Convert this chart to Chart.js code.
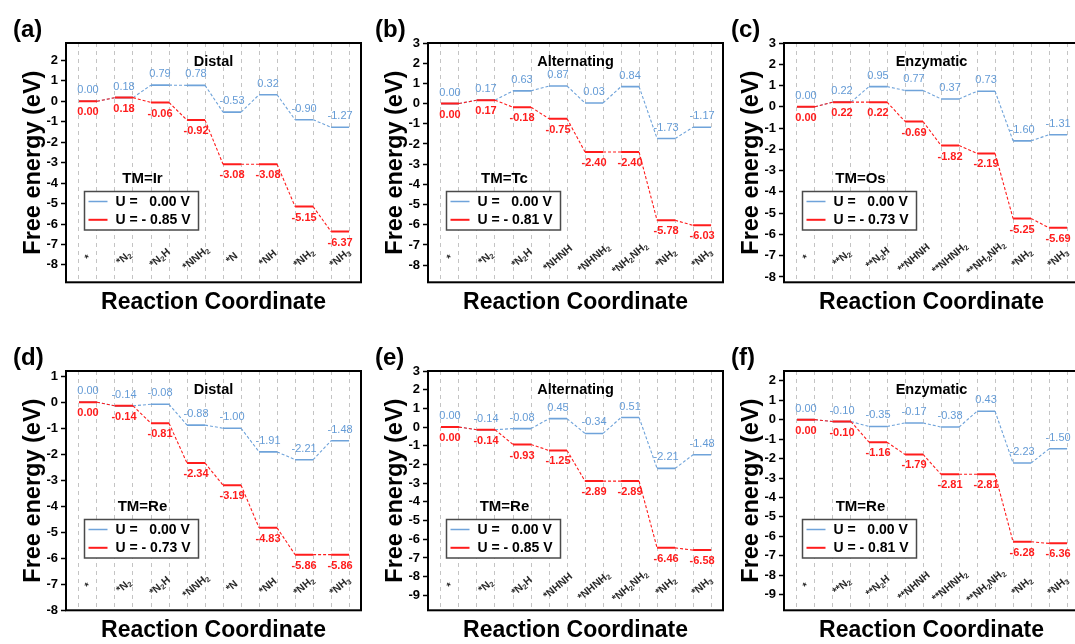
<!DOCTYPE html>
<html><head><meta charset="utf-8">
<script src="https://cdn.jsdelivr.net/npm/chart.js@4.4.1/dist/chart.umd.min.js"></script>
<style>
html,body{margin:0;padding:0;background:#fff;width:1075px;height:644px;overflow:hidden;position:relative}
canvas{position:absolute}
</style></head><body>
<script>
// ---------- DATA ----------
const distalSteps = ['*','*N2','*N2H','*NNH2','*N','*NH','*NH2','*NH3'];
const alternatingSteps = ['*','*N2','*N2H','*NHNH','*NHNH2','*NH2NH2','*NH2','*NH3'];
const enzymaticSteps = ['*','**N2','**N2H','**NHNH','**NHNH2','**NH2NH2','*NH2','*NH3'];

const irDistalU0   = [0.00, 0.18, 0.79, 0.78, -0.53, 0.32, -0.90, -1.27];
const irDistalUL   = [0.00, 0.18, -0.06, -0.92, -3.08, -3.08, -5.15, -6.37];
const tcAltU0      = [0.00, 0.17, 0.63, 0.87, 0.03, 0.84, -1.73, -1.17];
const tcAltUL      = [0.00, 0.17, -0.18, -0.75, -2.40, -2.40, -5.78, -6.03];
const osEnzU0      = [0.00, 0.22, 0.95, 0.77, 0.37, 0.73, -1.60, -1.31];
const osEnzUL      = [0.00, 0.22, 0.22, -0.69, -1.82, -2.19, -5.25, -5.69];
const reDistalU0   = [0.00, -0.14, -0.08, -0.88, -1.00, -1.91, -2.21, -1.48];
const reDistalUL   = [0.00, -0.14, -0.81, -2.34, -3.19, -4.83, -5.86, -5.86];
const reAltU0      = [0.00, -0.14, -0.08, 0.45, -0.34, 0.51, -2.21, -1.48];
const reAltUL      = [0.00, -0.14, -0.93, -1.25, -2.89, -2.89, -6.46, -6.58];
const reEnzU0      = [0.00, -0.10, -0.35, -0.17, -0.38, 0.43, -2.23, -1.50];
const reEnzUL      = [0.00, -0.10, -1.16, -1.79, -2.81, -2.81, -6.28, -6.36];

const legendU0 = 'U =   0.00 V';
const legendLabels = ['U = - 0.85 V','U = - 0.81 V','U = - 0.73 V','U = - 0.73 V','U = - 0.85 V','U = - 0.81 V'];

const ticksA = [-8,-7,-6,-5,-4,-3,-2,-1,0,1,2];
const ticksB = [-8,-7,-6,-5,-4,-3,-2,-1,0,1,2,3];
const ticksC = [-8,-7,-6,-5,-4,-3,-2,-1,0,1,2,3];
const ticksD = [-8,-7,-6,-5,-4,-3,-2,-1,0,1];
const ticksE = [-9,-8,-7,-6,-5,-4,-3,-2,-1,0,1,2,3];
const ticksF = [-9,-8,-7,-6,-5,-4,-3,-2,-1,0,1,2];

// ---------- STYLE ----------
const FONT = "'Liberation Sans', Arial, Helvetica, sans-serif";
const BLUE = '#6fa3da';
const BLUE_TXT = '#649bd6';
const RED = '#ff1c1c';
const HW = 0.25;           // half width of an energy level (x units)
const CW = 365, CH = 321, PH = 239.3, PADTOP = 43, AXW = 66;

const panels = [
  {letter:'(a)', mech:'Distal',      tm:'Ir', steps:distalSteps,      u0:irDistalU0, ul:irDistalUL, lab:legendLabels[0], yMin:-8.85, yMax:2.85, ticks:ticksA, col:66,  row:43},
  {letter:'(b)', mech:'Alternating', tm:'Tc', steps:alternatingSteps, u0:tcAltU0,    ul:tcAltUL,    lab:legendLabels[1], yMin:-8.85, yMax:3,    ticks:ticksB, col:428, row:43},
  {letter:'(c)', mech:'Enzymatic',   tm:'Os', steps:enzymaticSteps,   u0:osEnzU0,    ul:osEnzUL,    lab:legendLabels[2], yMin:-8.25, yMax:3,    ticks:ticksC, col:784, row:43},
  {letter:'(d)', mech:'Distal',      tm:'Re', steps:distalSteps,      u0:reDistalU0, ul:reDistalUL, lab:legendLabels[3], yMin:-8,    yMax:1.2,  ticks:ticksD, col:66,  row:371},
  {letter:'(e)', mech:'Alternating', tm:'Re', steps:alternatingSteps, u0:reAltU0,    ul:reAltUL,    lab:legendLabels[4], yMin:-9.8,  yMax:3,    ticks:ticksE, col:428, row:371},
  {letter:'(f)', mech:'Enzymatic',   tm:'Re', steps:enzymaticSteps,   u0:reEnzU0,    ul:reEnzUL,    lab:legendLabels[5], yMin:-9.8,  yMax:2.5,  ticks:ticksF, col:784, row:371}
];

function levels(vals){
  const pts = [];
  vals.forEach((v,i)=>{ pts.push({x:i+1-HW, y:v}); pts.push({x:i+1+HW, y:v}); });
  return pts;
}
function gridPositions(n){
  const g = [];
  for (let i=1;i<=n;i++){ g.push(i-HW); g.push(i+HW); }
  return g;
}

function drawCategory(ctx, text, cx, cy){
  const size = 10.5, sub = 7.5;
  const parts = [];
  for (const ch of text) parts.push({ch, sub:/\d/.test(ch)});
  let w = 0;
  for (const p of parts){ ctx.font = `bold ${p.sub?sub:size}px ${FONT}`; p.w = ctx.measureText(p.ch).width; w += p.w; }
  ctx.save();
  ctx.translate(cx, cy);
  ctx.rotate(-40*Math.PI/180);
  ctx.textAlign = 'left'; ctx.textBaseline = 'middle'; ctx.fillStyle = '#2a2a2a';
  let x = -w/2;
  for (const p of parts){ ctx.font = `bold ${p.sub?sub:size}px ${FONT}`; ctx.fillText(p.ch, x, p.sub?2.8:0); x += p.w; }
  ctx.restore();
}

const annotate = {
  id:'annotate',
  afterDraw(chart){
    const p = chart.options.plugins.annotate.panel;
    const ctx = chart.ctx, a = chart.chartArea, xs = chart.scales.x, ys = chart.scales.y;
    ctx.save();
    // frame
    ctx.strokeStyle = '#000'; ctx.lineWidth = 2;
    ctx.strokeRect(a.left, a.top, a.right-a.left, a.bottom-a.top);
    // value labels
    ctx.textAlign = 'center'; ctx.textBaseline = 'middle';
    p.u0.forEach((v,i)=>{
      ctx.font = `11px ${FONT}`; ctx.fillStyle = BLUE_TXT;
      ctx.fillText(v.toFixed(2), xs.getPixelForValue(i+1), ys.getPixelForValue(v)-11);
    });
    p.ul.forEach((v,i)=>{
      ctx.font = `bold 11px ${FONT}`; ctx.fillStyle = RED;
      ctx.fillText(v.toFixed(2), xs.getPixelForValue(i+1), ys.getPixelForValue(v)+11);
    });
    // categories
    p.steps.forEach((s,i)=> drawCategory(ctx, s, xs.getPixelForValue(i+1), a.bottom-24));
    // mechanism
    ctx.fillStyle = '#000'; ctx.textAlign='center'; ctx.textBaseline='middle';
    ctx.font = `bold 14.5px ${FONT}`;
    ctx.fillText(p.mech, (a.left+a.right)/2, a.top+18.5);
    ctx.font = `bold 15px ${FONT}`;
    ctx.fillText('TM='+p.tm, a.left+76.5, a.top+136);
    // legend
    const lx = a.left+18.5, ly = a.top+148.5, lw = 114, lh = 38.5;
    ctx.fillStyle = '#fff'; ctx.fillRect(lx, ly, lw, lh);
    ctx.strokeStyle = '#4a4a4a'; ctx.lineWidth = 1.5; ctx.strokeRect(lx, ly, lw, lh);
    chart.data.datasets.forEach((ds, k)=>{
      const yy = ly + 10 + k*18.3;
      ctx.strokeStyle = ds.borderColor; ctx.lineWidth = k===0?1.5:2;
      ctx.beginPath(); ctx.moveTo(lx+4, yy); ctx.lineTo(lx+23, yy); ctx.stroke();
      ctx.fillStyle = '#000'; ctx.textAlign = 'left'; ctx.font = `bold 14px ${FONT}`;
      ctx.fillText(ds.label, lx+31, yy+0.5);
    });
    // panel letter
    ctx.fillStyle = '#000'; ctx.textAlign = 'left'; ctx.textBaseline = 'alphabetic';
    ctx.font = `bold 24px ${FONT}`;
    ctx.fillText(p.letter, a.left-53, a.top-6);
    ctx.restore();
  }
};

panels.forEach(p=>{
  const cv = document.createElement('canvas');
  cv.width = CW; cv.height = CH;
  cv.style.left = (p.col-AXW)+'px';
  cv.style.top = (p.row-PADTOP)+'px';
  document.body.appendChild(cv);
  const seg = (solidW)=>({
    borderDash: c => (c.p0DataIndex % 2 === 1) ? [3,2] : [],
    borderWidth: c => (c.p0DataIndex % 2 === 1) ? 1.1 : solidW
  });
  new Chart(cv, {
    type:'line',
    data:{datasets:[
      {label:legendU0, data:levels(p.u0), borderColor:BLUE, borderWidth:1.6, pointRadius:0, tension:0, fill:false, order:1, segment:seg(1.6)},
      {label:p.lab, data:levels(p.ul), borderColor:RED, borderWidth:2, pointRadius:0, tension:0, fill:false, order:0, segment:seg(2)}
    ]},
    options:{
      responsive:false, animation:false, events:[],
      layout:{padding:{top:PADTOP, right:4, left:0, bottom:0}},
      plugins:{legend:{display:false}, tooltip:{enabled:false}, annotate:{panel:p}},
      scales:{
        x:{
          type:'linear', min:0.39, max:8.58,
          afterBuildTicks: s=>{ s.ticks = gridPositions(p.steps.length).map(v=>({value:v})); },
          afterFit: s=>{ s.height = CH-PADTOP-PH; },
          ticks:{display:false},
          grid:{color:'#c4c4c4', lineWidth:1, drawTicks:false, tickLength:0, borderDash:[4,4]},
          border:{display:false, dash:[4,4]},
          title:{display:true, text:'Reaction Coordinate', color:'#000', font:{family:FONT, size:23, weight:'bold'}, padding:{top:0, bottom:5}}
        },
        y:{
          min:p.yMin, max:p.yMax,
          afterBuildTicks: s=>{ s.ticks = p.ticks.map(v=>({value:v})); },
          afterFit: s=>{ s.width = AXW; },
          ticks:{color:'#000', font:{family:FONT, size:13, weight:'bold'}, padding:3, callback:v=>String(v)},
          grid:{drawOnChartArea:false, drawTicks:true, tickLength:5, tickWidth:1.5, tickColor:'#000'},
          border:{display:false},
          title:{display:true, text:'Free energy (eV)', color:'#000', font:{family:FONT, size:23.5, weight:'bold'}, padding:{top:19, bottom:0}}
        }
      }
    },
    plugins:[annotate]
  });
});
</script>
</body></html>
